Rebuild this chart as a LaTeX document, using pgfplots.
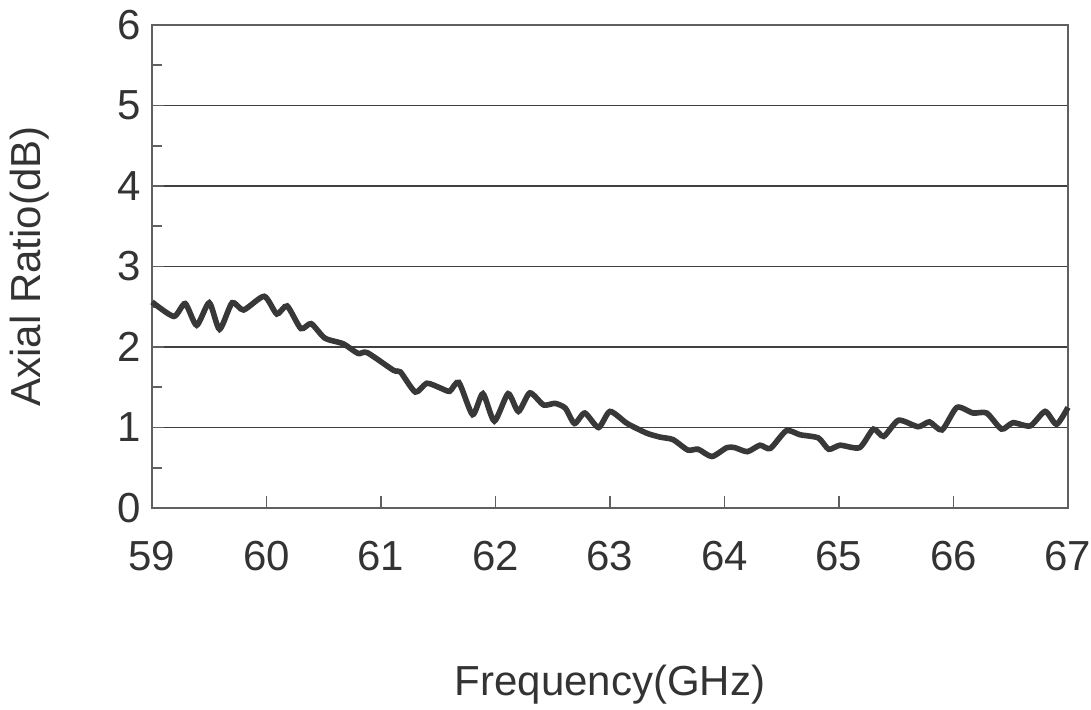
\documentclass[border=0pt]{standalone}
\usepackage{pgfplots}
\pgfplotsset{compat=1.18}
\usepackage{fontspec}
\setmainfont{Liberation Sans}
\definecolor{curve}{HTML}{383838}
\definecolor{frame}{HTML}{606060}
\definecolor{txt}{HTML}{333333}
\begin{document}
\begin{tikzpicture}
\useasboundingbox (-76pt,-100.5pt) rectangle (469.5pt,254pt);
\begin{axis}[
  scale only axis,
  width=458pt, height=241.5pt,
  xmin=59, xmax=67, ymin=0, ymax=6,
  xtick={59,60,...,67}, ytick={0,1,...,6},
  minor ytick={0.5,1.5,...,5.5},
  xtick pos=lower, ytick pos=left,
  tick align=inside,
  major tick length=6pt, minor tick length=5pt,
  tick style={frame, line width=0.8pt},
  ymajorgrids,
  grid style={black!75, line width=0.6pt},
  axis line style={frame, line width=1.2pt},
  font=\fontsize{21}{25}\selectfont,
  tick label style={txt},
  xticklabel style={yshift=-13pt},
  yticklabel style={xshift=-2pt},
  xlabel={Frequency(GHz)}, ylabel={Axial Ratio(dB)},
  label style={txt},
  xlabel style={at={(axis description cs:0.5,0)}, anchor=center, yshift=-88.5pt},
  ylabel style={at={(axis description cs:0,0.5)}, anchor=center, rotate=0, yshift=61pt},
  /pgf/number format/assume math mode=true,
  clip=false,
]
\addplot[curve, line width=2.8pt, smooth, tension=0.4] coordinates {
(59.00,2.56) (59.19,2.38) (59.29,2.54) (59.39,2.27) (59.50,2.55) (59.59,2.22)
(59.70,2.55) (59.80,2.46) (59.98,2.63) (60.09,2.41) (60.18,2.51) (60.30,2.23)
(60.39,2.29) (60.51,2.11) (60.67,2.04) (60.80,1.92) (60.88,1.93) (61.11,1.71)
(61.17,1.69) (61.30,1.44) (61.40,1.55) (61.52,1.49) (61.60,1.45) (61.68,1.56)
(61.80,1.16) (61.89,1.42) (61.99,1.08) (62.11,1.42) (62.20,1.20) (62.30,1.43)
(62.42,1.28) (62.52,1.30) (62.61,1.24) (62.69,1.05) (62.78,1.18) (62.90,1.00)
(63.00,1.20) (63.15,1.05) (63.32,0.93) (63.44,0.88) (63.55,0.85) (63.68,0.72)
(63.77,0.73) (63.89,0.64) (64.02,0.75) (64.09,0.75) (64.20,0.70) (64.31,0.78)
(64.40,0.74) (64.54,0.96) (64.66,0.91) (64.82,0.87) (64.91,0.73) (65.01,0.78)
(65.18,0.75) (65.30,0.98) (65.39,0.89) (65.52,1.09) (65.69,1.01) (65.79,1.07)
(65.90,0.97) (66.03,1.25) (66.17,1.18) (66.29,1.18) (66.42,0.98) (66.52,1.06)
(66.67,1.02) (66.80,1.20) (66.90,1.04) (67.00,1.25)
};
\end{axis}
\end{tikzpicture}
\end{document}
